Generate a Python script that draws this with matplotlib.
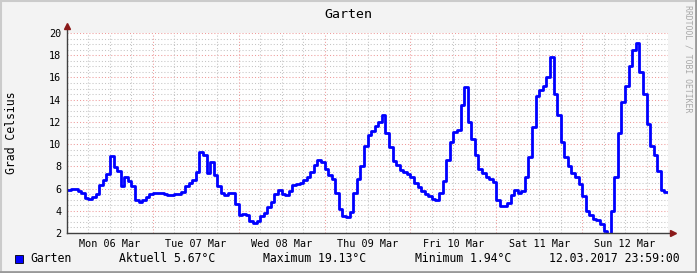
import matplotlib
matplotlib.use("Agg")
import matplotlib.pyplot as plt
import numpy as np

# hourly temperatures, Mon 06 Mar 00:00 .. Sun 12 Mar 23:00 (Grad Celsius)
mon = [5.9, 6.0, 5.95, 5.8, 5.6, 5.15, 5.1, 5.2, 5.5, 6.3, 6.8, 7.3,
       8.9, 7.9, 7.6, 6.2, 7.0, 6.7, 6.2, 4.95, 4.8, 4.95, 5.2, 5.5]
tue = [5.6, 5.6, 5.6, 5.55, 5.45, 5.4, 5.5, 5.55, 5.7, 6.2, 6.5, 6.8,
       7.5, 9.3, 9.0, 7.4, 8.4, 7.2, 6.2, 5.6, 5.4, 5.6, 5.6, 4.6]
wed = [3.6, 3.7, 3.6, 3.1, 2.9, 3.1, 3.5, 3.8, 4.3, 4.8, 5.5, 5.9,
       5.5, 5.4, 5.8, 6.3, 6.4, 6.5, 6.8, 7.05, 7.5, 8.1, 8.6, 8.4]
thu = [7.8, 7.2, 6.9, 5.6, 4.2, 3.5, 3.4, 3.9, 5.6, 6.9, 8.0, 9.8,
       10.8, 11.2, 11.6, 12.0, 12.6, 11.0, 9.7, 8.5, 8.1, 7.7, 7.5, 7.3]
fri = [7.0, 6.5, 6.1, 5.8, 5.5, 5.3, 5.1, 4.95, 5.6, 6.7, 8.6, 10.2,
       11.1, 11.3, 13.5, 15.1, 12.0, 10.5, 9.0, 7.8, 7.4, 7.0, 6.9, 6.6]
sat = [5.0, 4.4, 4.45, 4.7, 5.4, 5.9, 5.6, 5.8, 7.0, 8.8, 11.5, 14.3,
       14.9, 15.2, 16.0, 17.8, 14.5, 12.6, 10.2, 8.8, 8.0, 7.4, 7.0, 6.4]
sun = [5.3, 4.0, 3.6, 3.3, 3.2, 2.8, 2.2, 1.94, 4.0, 7.0, 11.0, 13.8,
       15.2, 17.0, 18.5, 19.13, 16.5, 14.5, 11.8, 9.8, 9.0, 7.6, 5.9, 5.67]

day_labels = ["Mon 06 Mar", "Tue 07 Mar", "Wed 08 Mar", "Thu 09 Mar",
              "Fri 10 Mar", "Sat 11 Mar", "Sun 12 Mar"]
title = "Garten"
ylabel = "Grad Celsius"
end_stamp = "12.03.2017 23:59:00"

temps = np.array(mon + tue + wed + thu + fri + sat + sun)
hours = np.arange(len(temps))

plt.rcParams['font.family'] = 'DejaVu Sans Mono'

fig = plt.figure(figsize=(6.97, 2.73), dpi=100)
fig.patch.set_facecolor('#F3F3F3')

W, H = 697.0, 273.0
ax = fig.add_axes([67 / W, 40 / H, 601 / W, 200 / H])
ax.set_facecolor('white')

# grid
for y in np.arange(2, 20.01, 0.5):
    if y % 2 == 0:
        ax.axhline(y, color='#EE9A9A', lw=0.75, ls=(0, (1, 2)), zorder=1)
    else:
        ax.axhline(y, color='#C4C4C4', lw=0.75, ls=(0, (1, 2)), zorder=1)
for x in np.arange(6, 168, 6):
    if x % 24 == 0:
        ax.axvline(x, color='#EE9A9A', lw=0.75, ls=(0, (1, 2)), zorder=1)
    else:
        ax.axvline(x, color='#C4C4C4', lw=0.75, ls=(0, (1, 2)), zorder=1)

xs = np.append(hours, 168)
ys = np.append(temps, temps[-1])
ax.step(xs, ys, where='post', color='#0000FF', lw=2.0, zorder=3)

ax.set_xlim(0, 168)
ax.set_ylim(2, 20)
for s in ax.spines.values():
    s.set_visible(False)

ax.set_yticks(np.arange(2, 21, 2))
ax.set_xticks(np.arange(12, 168, 24))
ax.set_xticklabels(day_labels)
ax.tick_params(axis='both', length=0, labelsize=7.3, colors='#000000')
ax.tick_params(axis='y', pad=4)
ax.tick_params(axis='x', pad=4)

# axes with arrows (rrdtool style)
ax.plot([0, 0], [2, 20.4], color='#404040', lw=1, clip_on=False, zorder=4)
ax.plot([0, 169], [2, 2], color='#404040', lw=1, clip_on=False, zorder=4)
ax.plot([0], [20.6], marker='^', color='#8B1A1A', ms=4, clip_on=False, zorder=5)
ax.plot([169.5], [2], marker='>', color='#8B1A1A', ms=4, clip_on=False, zorder=5)

fig.text(348 / W, 1 - 14 / H, title, ha='center', va='center', fontsize=9.5)
fig.text(12 / W, 1 - 133 / H, ylabel, ha='center', va='center', rotation=90, fontsize=8.3)
fig.text(688 / W, 1 - 5 / H, "RRDTOOL / TOBI OETIKER", ha='center', va='top',
         rotation=270, fontsize=5.9, color='#A8A8A8')

# legend line
ly = 1 - 259 / H
fig.patches.append(plt.Rectangle((15 / W, 1 - 263 / H), 8 / W, 8 / H, transform=fig.transFigure,
                                 facecolor='#0000FF', edgecolor='black', lw=0.6))
fig.text(30 / W, ly, "Garten", va='center', fontsize=8.3)
fig.text(119 / W, ly, "Aktuell %.2f°C" % temps[-1], va='center', fontsize=8.3)
fig.text(263 / W, ly, "Maximum %.2f°C" % temps.max(), va='center', fontsize=8.3)
fig.text(415 / W, ly, "Minimum %.2f°C" % temps.min(), va='center', fontsize=8.3)
fig.text(549 / W, ly, end_stamp, va='center', fontsize=8.3)

# 3d frame
fig.add_artist(plt.Line2D([0, 1], [1 - 1 / H, 1 - 1 / H], color='#CBCBCB', lw=1.5, transform=fig.transFigure))
fig.add_artist(plt.Line2D([1 / W, 1 / W], [0, 1], color='#CBCBCB', lw=1.5, transform=fig.transFigure))
fig.add_artist(plt.Line2D([1 - 1 / W, 1 - 1 / W], [0, 1], color='#999999', lw=2, transform=fig.transFigure))
fig.add_artist(plt.Line2D([0, 1], [1 / H, 1 / H], color='#999999', lw=2, transform=fig.transFigure))

fig.savefig("out.png", dpi=100, facecolor=fig.get_facecolor())
